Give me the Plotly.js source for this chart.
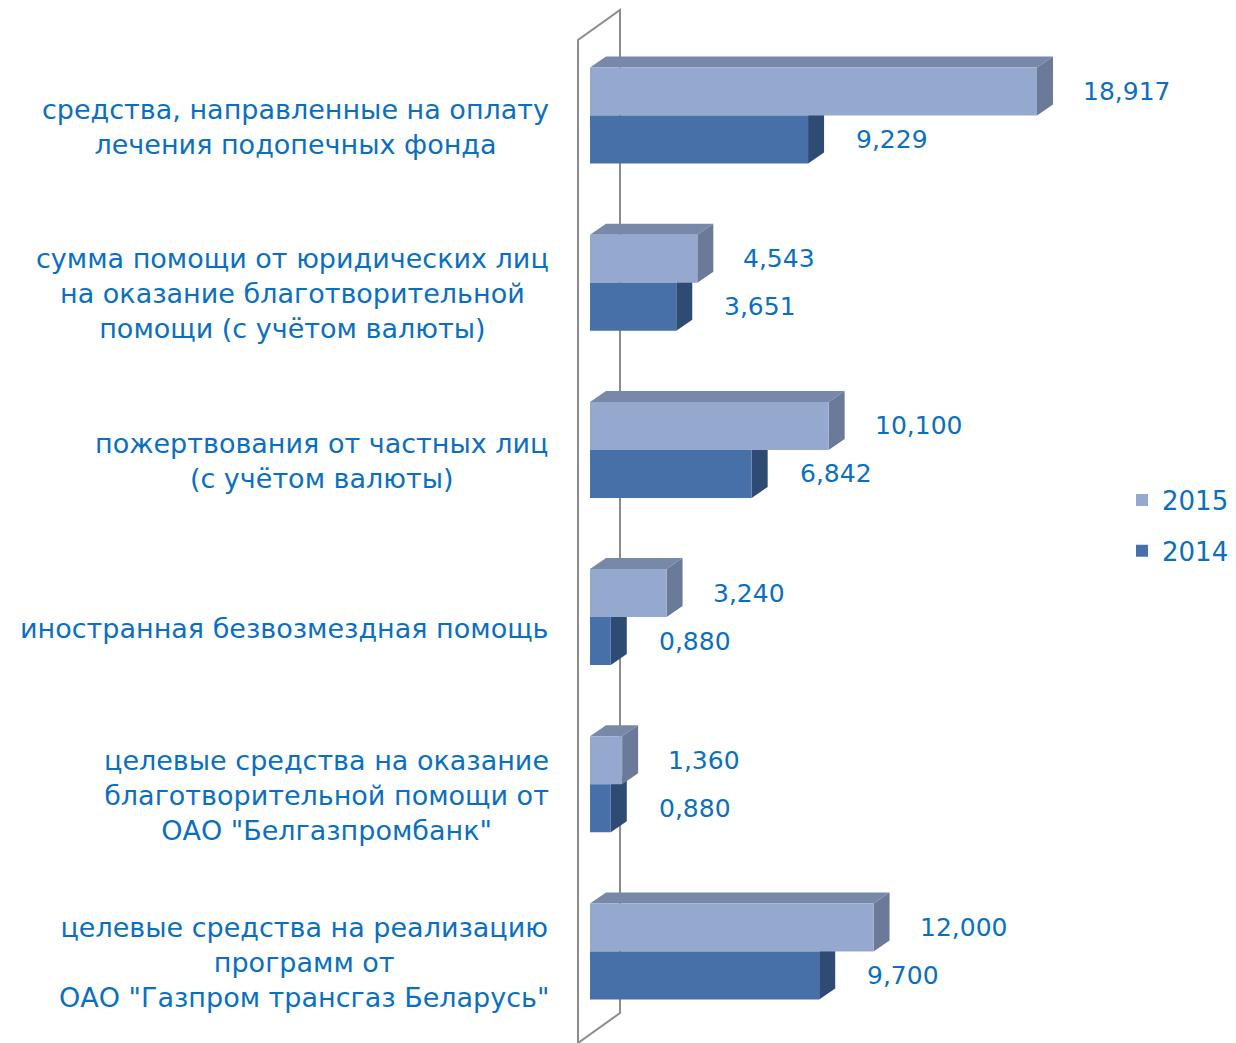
<!DOCTYPE html>
<html>
<head>
<meta charset="utf-8">
<script src="https://cdn.plot.ly/plotly-3.0.1.min.js"></script>
<style>html,body{margin:0;padding:0;background:#fff;}#chart{width:1236px;height:1043px;}</style>
</head>
<body>
<div id="chart"></div>
<script>
const categories = [
  'средства, направленные на оплату<br>лечения подопечных фонда',
  'сумма помощи от юридических лиц<br>на оказание благотворительной<br>помощи (с учётом валюты)',
  'пожертвования от частных лиц<br>(с учётом валюты)',
  'иностранная безвозмездная помощь',
  'целевые средства на оказание<br>благотворительной помощи от<br>ОАО "Белгазпромбанк"',
  'целевые средства на реализацию<br>программ от<br>ОАО "Газпром трансгаз Беларусь"'
];
const values2015 = [18.917, 4.543, 10.100, 3.240, 1.360, 12.000];
const values2014 = [9.229, 3.651, 6.842, 0.880, 0.880, 9.700];
const seriesNames = ['2015', '2014'];

const W = 1236, H = 1043;
const M = {l: 590, r: 0, t: 32, b: 8};
const plotW = W - M.l - M.r;
const XMAX = 27.34;
const ppu = plotW / XMAX;
const DX = 16 / ppu, DY = 11, BH = 48;
const catIdx = categories.map((c, i) => i);
const fmt = v => v.toFixed(3).replace('.', ',');
const BLUE = '#0b6fbf';
const FONT = '"DejaVu Sans", "Liberation Sans", Arial, sans-serif';

const c15 = {front: '#95a9cf', top: '#7888a8', side: '#6a7a98'};
const c14 = {front: '#4770a8', side: '#2e4b74'};

const traces = [
  {type: 'bar', orientation: 'h', name: seriesNames[0], y: categories, x: values2015,
   marker: {color: c15.front, line: {width: 0}}, legendgroup: 'a', hoverinfo: 'none'},
  {type: 'bar', orientation: 'h', name: seriesNames[1], y: categories, x: values2014,
   marker: {color: c14.front, line: {width: 0}}, legendgroup: 'b', hoverinfo: 'none'}
];

const shapes = [{
  type: 'path', xref: 'paper', yref: 'paper', xsizemode: 'pixel', ysizemode: 'pixel',
  xanchor: 0, yanchor: 1, layer: 'below',
  path: 'M-12,-1011 L-12,-8 L30,22 L30,-981 Z',
  line: {color: '#8c8c8c', width: 2}, fillcolor: 'rgba(0,0,0,0)'
}];
catIdx.forEach(i => {
  const a = values2015[i], b = values2014[i];
  const base = {type: 'path', xref: 'x', yref: 'y', ysizemode: 'pixel', yanchor: i, layer: 'below', line: {width: 0}};
  shapes.push(Object.assign({}, base, {fillcolor: c14.side,
    path: `M${b},0 L${b + DX},${DY} L${b + DX},${DY - BH} L${b},${-BH} Z`}));
  shapes.push(Object.assign({}, base, {fillcolor: c15.top,
    path: `M0,${BH} L${a},${BH} L${a + DX},${BH + DY} L${DX},${BH + DY} Z`}));
  shapes.push(Object.assign({}, base, {fillcolor: c15.side,
    path: `M${a},${BH} L${a + DX},${BH + DY} L${a + DX},${DY} L${a},0 Z`}));
});

const annotations = [];
catIdx.forEach(i => {
  annotations.push({xref: 'paper', x: 0, xanchor: 'right', xshift: -39, yref: 'y', y: i, yshift: -11,
    text: categories[i], showarrow: false, align: 'center', font: {family: FONT, size: 27, color: BLUE}});
  annotations.push({xref: 'x', x: values2015[i], xanchor: 'left', xshift: 44, yref: 'y', y: i, yshift: 24,
    text: fmt(values2015[i]), showarrow: false, font: {family: FONT, size: 25, color: BLUE}});
  annotations.push({xref: 'x', x: values2014[i], xanchor: 'left', xshift: 46, yref: 'y', y: i, yshift: -24,
    text: fmt(values2014[i]), showarrow: false, font: {family: FONT, size: 25, color: BLUE}});
});

const layout = {
  width: W, height: H, margin: M,
  paper_bgcolor: '#ffffff', plot_bgcolor: 'rgba(0,0,0,0)',
  barmode: 'group', bargap: 1 - 2 * BH / ((H - M.t - M.b) / 6), bargroupgap: 0,
  xaxis: {range: [0, XMAX], visible: false, showgrid: false, zeroline: false},
  yaxis: {type: 'category', range: [5.5, -0.5], visible: false, showgrid: false},
  showlegend: true,
  legend: {x: (1122 - M.l) / plotW, xanchor: 'left', y: 0.508, yanchor: 'middle',
    traceorder: 'grouped', tracegroupgap: 14, bgcolor: 'rgba(0,0,0,0)',
    font: {family: FONT, size: 26, color: BLUE}},
  shapes: shapes, annotations: annotations,
  font: {family: FONT}
};

Plotly.newPlot('chart', traces, layout, {staticPlot: true, displayModeBar: false});
</script>
</body>
</html>
